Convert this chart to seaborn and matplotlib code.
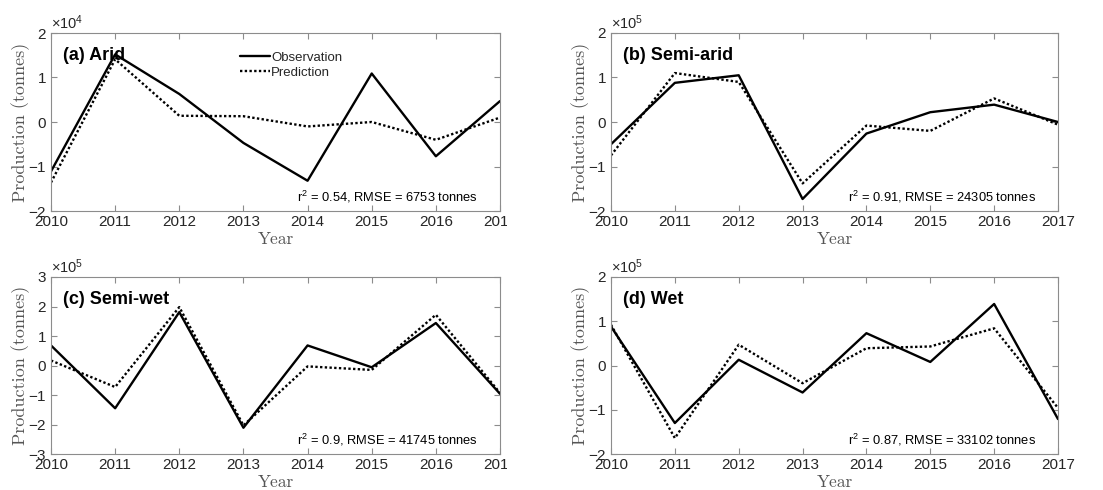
import numpy as np
import pandas as pd
import matplotlib
matplotlib.use("Agg")
import matplotlib.pyplot as plt
import seaborn as sns
from matplotlib.ticker import ScalarFormatter, FixedLocator
from matplotlib.transforms import Bbox, TransformedBbox

years = [2010, 2011, 2012, 2013, 2014, 2015, 2016, 2017]

arid_obs = [-1.11e4, 1.52e4, 0.63e4, -0.47e4, -1.32e4, 1.09e4, -0.77e4, 0.47e4]
arid_pred = [-1.36e4, 1.41e4, 0.14e4, 0.13e4, -0.10e4, 0.0e4, -0.40e4, 0.10e4]

semiarid_obs = [-0.50e5, 0.88e5, 1.05e5, -1.73e5, -0.26e5, 0.22e5, 0.39e5, 0.0e5]
semiarid_pred = [-0.75e5, 1.10e5, 0.90e5, -1.38e5, -0.08e5, -0.20e5, 0.53e5, -0.06e5]

semiwet_obs = [0.68e5, -1.45e5, 1.81e5, -2.11e5, 0.68e5, -0.06e5, 1.44e5, -0.96e5]
semiwet_pred = [0.17e5, -0.73e5, 1.98e5, -2.03e5, -0.03e5, -0.15e5, 1.72e5, -0.93e5]

wet_obs = [0.88e5, -1.30e5, 0.13e5, -0.61e5, 0.73e5, 0.08e5, 1.39e5, -1.21e5]
wet_pred = [0.92e5, -1.64e5, 0.47e5, -0.40e5, 0.39e5, 0.43e5, 0.84e5, -0.96e5]

titles = ["(a) Arid", "(b) Semi-arid", "(c) Semi-wet", "(d) Wet"]
stats = ["r$^{2}$ = 0.54, RMSE = 6753 tonnes",
         "r$^{2}$ = 0.91, RMSE = 24305 tonnes",
         "r$^{2}$ = 0.9, RMSE = 41745 tonnes",
         "r$^{2}$ = 0.87, RMSE = 33102 tonnes"]
ylims = [(-2e4, 2e4), (-2e5, 2e5), (-3e5, 3e5), (-2e5, 2e5)]
yticks = [[-2e4, -1e4, 0, 1e4, 2e4],
          [-2e5, -1e5, 0, 1e5, 2e5],
          [-3e5, -2e5, -1e5, 0, 1e5, 2e5, 3e5],
          [-2e5, -1e5, 0, 1e5, 2e5]]
series_names = ["Observation", "Prediction"]

panels = [(arid_obs, arid_pred), (semiarid_obs, semiarid_pred),
          (semiwet_obs, semiwet_pred), (wet_obs, wet_pred)]

sns.set_theme(style="white")
plt.rcParams["font.family"] = ["Liberation Sans", "DejaVu Sans"]
plt.rcParams["axes.unicode_minus"] = False
plt.rcParams["mathtext.fontset"] = "custom"
plt.rcParams["mathtext.rm"] = "Liberation Sans"
plt.rcParams["mathtext.it"] = "Liberation Sans:italic"
plt.rcParams["mathtext.bf"] = "Liberation Sans:bold"

fig = plt.figure(figsize=(11.03, 4.90), dpi=100)
W, H = 1103, 490
boxes = [(51, 33, 500, 211), (611, 33, 1058, 211),
         (51, 277, 500, 454), (611, 277, 1058, 454)]

spine_c = "#8c8c8c"
text_c = "#262626"

axes = []
for i, (l, t, r, b) in enumerate(boxes):
    ax = fig.add_axes([l / W, 1 - b / H, (r - l) / W, (b - t) / H])
    axes.append(ax)
    obs, pred = panels[i]
    df = pd.DataFrame({
        "Year": years * 2,
        "Production": list(obs) + list(pred),
        "Series": [series_names[0]] * len(years) + [series_names[1]] * len(years),
    })
    sns.lineplot(data=df, x="Year", y="Production", style="Series",
                 dashes={"Observation": "", "Prediction": (1, 1)},
                 color="black", linewidth=1.7, ax=ax, legend=(i == 0))
    ax.set_xlim(2010, 2017)
    ax.set_ylim(*ylims[i])
    ax.xaxis.set_major_locator(FixedLocator(years))
    ax.yaxis.set_major_locator(FixedLocator(yticks[i]))
    fmt = ScalarFormatter(useMathText=True)
    fmt.set_powerlimits((0, 0))
    ax.yaxis.set_major_formatter(fmt)
    ax.yaxis.get_offset_text().set_fontsize(10.5)
    ax.yaxis.get_offset_text().set_color(text_c)
    ax.tick_params(direction="in", length=4, width=0.8, color=spine_c,
                   labelsize=11, labelcolor=text_c, top=True, right=True,
                   bottom=True, left=True, pad=3)
    for s in ax.spines.values():
        s.set_color(spine_c)
        s.set_linewidth(0.8)
    ax.set_xlabel("Year", fontsize=12.5, color="#555555", labelpad=2,
                  fontfamily="cmr10")
    ax.set_ylabel("Production (tonnes)", fontsize=13, fontfamily="cmr10",
                  color="#555555", labelpad=-1)
    ax.text(0.027, 0.875, titles[i], transform=ax.transAxes, fontsize=13,
            fontweight="bold", color="black", ha="left", va="center")
    ax.text(0.95, 0.08, stats[i], transform=ax.transAxes, fontsize=9.3,
            color="black", ha="right", va="center")
    if i == 0:
        leg = ax.legend(loc="upper left", bbox_to_anchor=(0.42, 0.896),
                        frameon=False, fontsize=9.5, handlelength=2.3,
                        handletextpad=0.1, labelspacing=0.2,
                        borderaxespad=0, borderpad=0)
        for h in leg.get_lines():
            h.set_linewidth(1.7)

# clip the rightmost year label on the left column as in the source image
clip_x = 507 / W
for ax in (axes[0], axes[2]):
    for lab in ax.get_xticklabels():
        lab.set_clip_box(TransformedBbox(Bbox([[0, 0], [clip_x, 1]]), fig.transFigure))
        lab.set_clip_on(True)

fig.savefig("out.png", dpi=100)
